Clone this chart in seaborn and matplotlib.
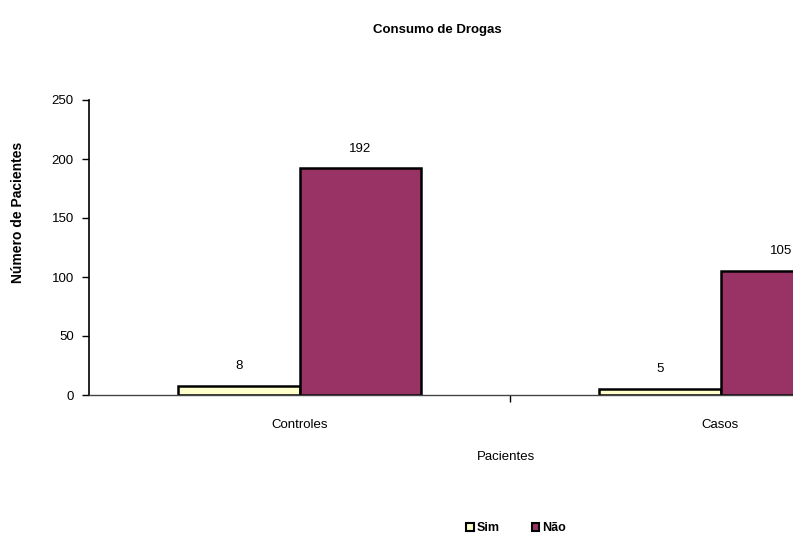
import matplotlib
matplotlib.use("Agg")
import matplotlib.pyplot as plt
import seaborn as sns
import pandas as pd
from matplotlib.patches import Patch

categories = ["Controles", "Casos"]
series = ["Sim", "Não"]
sim_values = [8, 5]
nao_values = [192, 105]
colors = ["#FFFFCC", "#993366"]

df = pd.DataFrame({
    "Pacientes": categories * 2,
    "Resposta": [series[0]] * 2 + [series[1]] * 2,
    "Valor": sim_values + nao_values,
})

sns.set_style("white")
plt.rcParams['font.family'] = ['Liberation Sans', 'DejaVu Sans']
plt.rcParams.update({"text.color": "black", "axes.labelcolor": "black",
                     "xtick.color": "black", "ytick.color": "black"})

W, H = 793, 536
fig = plt.figure(figsize=(W / 100, H / 100), dpi=100)
left, right = 89, 931
bottom_px, top_px = 395, 100
ax = fig.add_axes([left / W, (H - bottom_px) / H, (right - left) / W, (bottom_px - top_px) / H])

sns.barplot(data=df, x="Pacientes", y="Valor", hue="Resposta", order=categories,
            hue_order=series, palette=colors, width=0.575, edgecolor="black",
            linewidth=1.8, saturation=1, ax=ax, legend=False)

FS = 9.5
for cont in ax.containers:
    for bar in cont:
        h = bar.get_height()
        ax.annotate(f"{int(h)}", (bar.get_x() + bar.get_width() / 2, h),
                    xytext=(0, 10), textcoords="offset points", ha="center",
                    va="bottom", fontsize=FS, color="black")

ax.set_xlim(-0.5, 1.5)
ax.set_ylim(0, 250)
ax.set_yticks([0, 50, 100, 150, 200, 250])
ax.tick_params(axis="y", direction="out", length=5, width=1, labelsize=FS, pad=6, left=True)
ax.set_xticks([0, 1])
ax.set_xticklabels(categories, fontsize=FS)
ax.tick_params(axis="x", length=0, pad=17)
ax.set_xticks([0.5, 1.5], minor=True)
ax.tick_params(axis="x", which="minor", direction="out", length=5, width=1, bottom=True)
for s in ["top", "right"]:
    ax.spines[s].set_visible(False)
ax.spines["left"].set_color("black")
ax.spines["left"].set_linewidth(1.2)
ax.spines["bottom"].set_color("#444444")
ax.spines["bottom"].set_linewidth(1)
ax.set_xlabel("")
ax.set_ylabel("")

fig.text(437 / W, 1 - 30 / H, "Consumo de Drogas", ha="center", va="center",
         fontsize=9.5, fontweight="bold", color="black")
fig.text(506 / W, 1 - 457 / H, "Pacientes", ha="center", va="center", fontsize=FS,
         color="black")
fig.text(18 / W, 1 - 212 / H, "Número de Pacientes", ha="center", va="center",
         rotation=90, fontsize=10, fontweight="bold", color="black")

handles = [Patch(facecolor=c, edgecolor="black", linewidth=1.5) for c in colors]
fig.legend(handles, series, loc="center", bbox_to_anchor=(516 / W, 1 - 528 / H),
           ncol=2, frameon=False, handlelength=0.6, handleheight=0.6,
           handletextpad=0.2, columnspacing=2.6,
           prop={"weight": "bold", "size": 9})

fig.savefig("out.png", dpi=100)
